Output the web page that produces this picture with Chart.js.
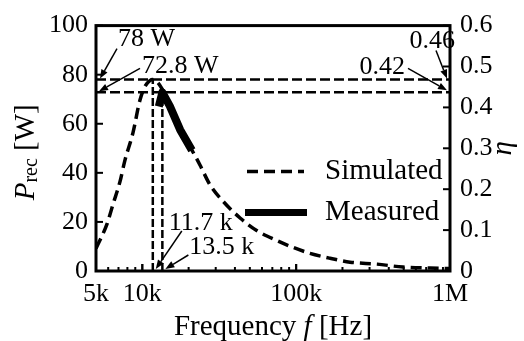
<!DOCTYPE html>
<html>
<head>
<meta charset="utf-8">
<script src="https://cdn.jsdelivr.net/npm/chart.js@4/dist/chart.umd.min.js"></script>
<style>
  html, body { margin: 0; padding: 0; background: #ffffff; }
  #wrap { width: 524px; height: 341px; position: relative; }
</style>
</head>
<body>
<div id="wrap"><canvas id="c" width="524" height="341"></canvas></div>
<script>
// ---- data ----
const simFreq  = [5000, 5900, 6450, 7160, 7700, 8700, 9650, 10400, 11200, 11700, 12500, 13500, 15000, 17500, 20400, 23700, 27500, 33500, 43200, 55700, 75000, 95500, 123000, 166000, 224000, 336000, 495000, 742000, 1000000];
const simPower = [9.2, 19.2, 27.2, 36.4, 45.0, 56.4, 69.6, 75.2, 77.6, 78.0, 77.0, 74.0, 68.5, 59.0, 50.8, 43.2, 35.2, 28.4, 21.6, 16.4, 12.4, 9.6, 7.2, 5.2, 3.6, 2.8, 1.6, 1.2, 1.0];
const measFreq  = [12800, 13500, 15100, 17600, 21000];
const measPower = [67.0, 72.8, 67.2, 57.6, 49.2];
const peakFreqs  = [11700, 13500];     // simulated, measured
const peakPowers = [78, 72.8];         // simulated, measured
const peakEff    = [0.46, 0.42];       // simulated, measured
const seriesLabels = ['Simulated', 'Measured'];
const xTickValues = [5000, 10000, 100000, 1000000];
const xTickLabels = ['5k', '10k', '100k', '1M'];
const freqRange = [5000, 1000000];
const powerRange = [0, 100];
const effRange = [0, 0.6];
const peakFreqText = ['11.7 k', '13.5 k'];
const peakPowerText = ['78 W', '72.8 W'];
const peakEffText = ['0.46', '0.42'];

const SERIF = '"Liberation Serif", "Times New Roman", serif';
const toXY = (xs, ys) => xs.map((x, i) => ({ x: x, y: ys[i] }));

const datasets = [
  { label: seriesLabels[0], data: toXY(simFreq, simPower), borderColor: '#000', borderWidth: 3.5,
    borderDash: [11, 6], pointRadius: 0, tension: 0.4, cubicInterpolationMode: 'monotone', yAxisID: 'y' },
  { label: seriesLabels[1], data: toXY(measFreq, measPower), borderColor: '#000', borderWidth: 8,
    pointRadius: 0, tension: 0, borderJoinStyle: 'round', yAxisID: 'y' },
  { label: '_h1', data: toXY(freqRange, [peakPowers[0], peakPowers[0]]), borderColor: '#000', borderWidth: 2.5, borderDash: [10, 4], pointRadius: 0, yAxisID: 'y' },
  { label: '_h2', data: toXY(freqRange, [peakPowers[1], peakPowers[1]]), borderColor: '#000', borderWidth: 2.5, borderDash: [10, 4], pointRadius: 0, yAxisID: 'y' },
  { label: '_v1', data: toXY([peakFreqs[0], peakFreqs[0]], [0, peakPowers[0]]), borderColor: '#000', borderWidth: 2.5, borderDash: [8, 3], pointRadius: 0, yAxisID: 'y' },
  { label: '_v2', data: toXY([peakFreqs[1], peakFreqs[1]], [0, peakPowers[1]]), borderColor: '#000', borderWidth: 2.5, borderDash: [8, 3], pointRadius: 0, yAxisID: 'y' }
];

function arrow(ctx, x0, y0, x1, y1) {
  const a = Math.atan2(y1 - y0, x1 - x0), L = 9, W = 3.5;
  const bx = x1 - L * Math.cos(a), by = y1 - L * Math.sin(a);
  ctx.beginPath(); ctx.moveTo(x0, y0); ctx.lineTo(bx, by); ctx.stroke();
  ctx.beginPath();
  ctx.moveTo(x1, y1);
  ctx.lineTo(bx + W * Math.sin(a), by - W * Math.cos(a));
  ctx.lineTo(bx - W * Math.sin(a), by + W * Math.cos(a));
  ctx.closePath(); ctx.fill();
}

function richText(ctx, parts, cx, cy) {
  // parts: [text, font, dy]
  let total = 0;
  parts.forEach(p => { ctx.font = p[1]; total += ctx.measureText(p[0]).width; });
  let x = cx - total / 2;
  ctx.textAlign = 'left'; ctx.textBaseline = 'middle';
  parts.forEach(p => { ctx.font = p[1]; ctx.fillText(p[0], x, cy + (p[2] || 0)); x += ctx.measureText(p[0]).width; });
}

const decorations = {
  id: 'decorations',
  afterDatasetsDraw(chart) {
    const ctx = chart.ctx, a = chart.chartArea;
    const sx = chart.scales.x, sy = chart.scales.y, sy1 = chart.scales.y1;
    ctx.save();
    ctx.strokeStyle = '#000'; ctx.fillStyle = '#000';
    // frame
    ctx.lineWidth = 3; ctx.setLineDash([]);
    ctx.strokeRect(a.left, a.top, a.right - a.left, a.bottom - a.top);
    // inward ticks
    ctx.lineWidth = 2;
    sy.ticks.forEach(t => { const y = sy.getPixelForValue(t.value);
      ctx.beginPath(); ctx.moveTo(a.left, y); ctx.lineTo(a.left + 7, y); ctx.stroke(); });
    sy1.ticks.forEach(t => { const y = sy1.getPixelForValue(t.value);
      ctx.beginPath(); ctx.moveTo(a.right, y); ctx.lineTo(a.right - 7, y); ctx.stroke(); });
    for (let d = 1000; d < 1e6; d *= 10) {
      for (let m = 1; m <= 10; m++) {
        const v = d * m;
        if (v < freqRange[0] || v > freqRange[1]) continue;
        const x = sx.getPixelForValue(v);
        const len = (m === 10 || m === 1) ? 7 : 4;
        ctx.beginPath(); ctx.moveTo(x, a.bottom); ctx.lineTo(x, a.bottom - len); ctx.stroke();
      }
    }
    // annotations
    ctx.lineWidth = 1.5;
    ctx.font = '26px ' + SERIF; ctx.textBaseline = 'middle';
    const pL = [sx.getPixelForValue(freqRange[0]), sy.getPixelForValue(peakPowers[0])];
    const pL2 = [sx.getPixelForValue(freqRange[0]), sy.getPixelForValue(peakPowers[1])];
    const pR = [sx.getPixelForValue(freqRange[1]), sy.getPixelForValue(peakPowers[0])];
    const pR2 = [sx.getPixelForValue(freqRange[1]), sy.getPixelForValue(peakPowers[1])];
    const pB = [sx.getPixelForValue(peakFreqs[0]), sy.getPixelForValue(0)];
    const pB2 = [sx.getPixelForValue(peakFreqs[1]), sy.getPixelForValue(0)];
    // 78 W
    arrow(ctx, pL[0] + 21, pL[1] - 31, pL[0] + 4, pL[1] - 1);
    ctx.textAlign = 'left'; ctx.fillText(peakPowerText[0], pL[0] + 22, pL[1] - 40);
    // 72.8 W
    arrow(ctx, pL2[0] + 44, pL2[1] - 24, pL2[0] + 3, pL2[1] - 1);
    ctx.fillText(peakPowerText[1], pL2[0] + 46, pL2[1] - 26);
    // 0.46
    arrow(ctx, pR[0] - 14, pR[1] - 29, pR[0] - 3, pR[1] - 1);
    ctx.textAlign = 'right'; ctx.fillText(peakEffText[0], pR[0] + 5, pR[1] - 38);
    // 0.42
    arrow(ctx, pR2[0] - 42, pR2[1] - 24, pR2[0] - 3, pR2[1] - 2);
    ctx.fillText(peakEffText[1], pR2[0] - 45, pR2[1] - 25);
    // 11.7 k
    ctx.textAlign = 'left';
    arrow(ctx, pB[0] + 29, pB[1] - 40, pB[0] + 3, pB[1] - 2);
    ctx.fillText(peakFreqText[0], pB[0] + 16, pB[1] - 48);
    // 13.5 k
    arrow(ctx, pB2[0] + 26, pB2[1] - 16, pB2[0] + 3, pB2[1] - 2);
    ctx.fillText(peakFreqText[1], pB2[0] + 27, pB2[1] - 24);
    // legend
    const lx = a.left + 151, ly = a.top + 146;
    ctx.lineWidth = 3.5; ctx.setLineDash([11, 6]);
    ctx.beginPath(); ctx.moveTo(lx, ly); ctx.lineTo(lx + 57, ly); ctx.stroke();
    ctx.setLineDash([]); ctx.lineWidth = 7;
    ctx.beginPath(); ctx.moveTo(lx - 2, ly + 41); ctx.lineTo(lx + 60, ly + 41); ctx.stroke();
    ctx.font = '29px ' + SERIF; ctx.textAlign = 'left';
    ctx.fillText(chart.data.datasets[0].label, lx + 78, ly);
    ctx.fillText(chart.data.datasets[1].label, lx + 78, ly + 41);
    // axis titles
    const ital = 'italic 29px ' + SERIF, reg = '29px ' + SERIF, sub = '20px ' + SERIF;
    richText(ctx, [['Frequency ', reg], ['f', ital], [' [Hz]', reg]], (a.left + a.right) / 2, 327);
    ctx.save(); ctx.translate(26, (a.top + a.bottom) / 2 + 4); ctx.rotate(-Math.PI / 2);
    richText(ctx, [['P', ital], ['rec', sub, 6], [' [W]', reg]], 0, 0);
    ctx.restore();
    ctx.save(); ctx.translate(503, (a.top + a.bottom) / 2); ctx.rotate(-Math.PI / 2);
    richText(ctx, [['\u03B7', ital]], 0, 0);
    ctx.restore();
    ctx.restore();
  }
};

new Chart(document.getElementById('c'), {
  type: 'line',
  data: { datasets: datasets },
  options: {
    responsive: false, animation: false,
    layout: { padding: { top: 21, left: 0, right: 0, bottom: 0 } },
    plugins: { legend: { display: false }, tooltip: { enabled: false } },
    scales: {
      x: {
        type: 'logarithmic', min: freqRange[0], max: freqRange[1], position: 'bottom',
        afterBuildTicks: s => { s.ticks = xTickValues.map(v => ({ value: v })); },
        afterFit: s => { s.height = 70; },
        ticks: { autoSkip: false, maxRotation: 0, padding: 8, color: '#000', font: { family: SERIF, size: 26 },
          callback: (v, i) => xTickLabels[i] },
        grid: { display: false, drawTicks: false }, border: { display: false }
      },
      y: {
        type: 'linear', min: powerRange[0], max: powerRange[1], position: 'left',
        afterFit: s => { s.width = 96; },
        ticks: { stepSize: 20, padding: 8, color: '#000', font: { family: SERIF, size: 26 } },
        grid: { display: false, drawTicks: false }, border: { display: false }
      },
      y1: {
        type: 'linear', min: effRange[0], max: effRange[1], position: 'right',
        afterFit: s => { s.width = 74; },
        ticks: { stepSize: 0.1, padding: 10, color: '#000', font: { family: SERIF, size: 26 },
          callback: v => (Math.round(v * 10) / 10).toString() },
        grid: { display: false, drawTicks: false }, border: { display: false }
      }
    }
  },
  plugins: [decorations]
});
</script>
</body>
</html>
